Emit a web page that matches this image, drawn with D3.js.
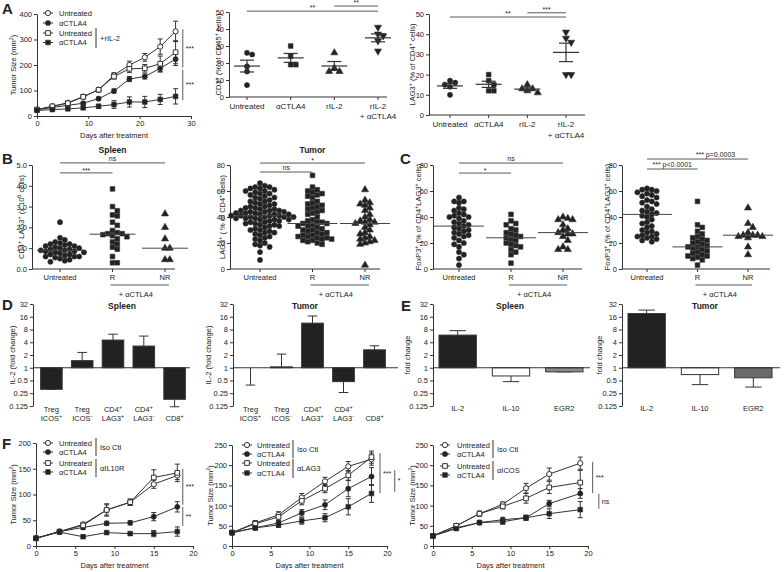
<!DOCTYPE html>
<html><head><meta charset="utf-8">
<script src="https://cdn.jsdelivr.net/npm/d3@7"></script>
<style>
body{margin:0;background:#fff}
svg{display:block}
text{font-family:"Liberation Sans",Arial,Helvetica,sans-serif;fill:#222}
</style></head>
<body><svg id="c" width="784" height="572"></svg>
<script>
// ================= DATA =================
// Panel A1: tumour growth (mm^2)
const daysA = [0,3,6,9,12,15,18,21,24,27];
const A1_untreated      = [25,38,52,76,103,160,200,230,272,332];
const A1_untreated_err  = [5,5,5,6,8,10,15,15,30,40];
const A1_ctla4          = [25,33,42,50,68,98,145,155,187,223];
const A1_ctla4_err      = [5,5,5,5,6,8,10,10,15,25];
const A1_il2            = [25,38,50,75,103,155,185,187,205,250];
const A1_il2_err        = [5,5,5,6,8,10,15,15,30,45];
const A1_ctla4il2       = [22,25,28,32,38,45,55,55,65,77];
const A1_ctla4il2_err   = [4,4,5,6,8,15,20,22,20,30];
const A1_legend = ["Untreated","αCTLA4","Untreated","αCTLA4"];
const yTicksA1 = [0,100,200,300,400];
const xTicksA1 = [0,10,20,30];

// Panels A2 / A3: per-mouse values
const A_groups = ["Untreated","αCTLA4","rIL-2","rIL-2|+ αCTLA4"];
const A2_vals = [[25,26,18,15,7],[30,24,19,19],[26,17,15,15],[41,37,36,33,27]];
const A3_vals = [[17,16,15,14,10],[20,17,15,12,12],[15,13,13,12,11],[41,38,36,20,20]];
const yTicksA23 = [0,10,20,30,40,50];

// Panels B / C
const BC_groups = ["Untreated","R","NR"];
const B1_vals = [
 [2.25,1.5,1.4,1.3,1.25,1.2,1.2,1.15,1.1,1.1,1.05,1.0,1.0,0.95,0.95,0.9,0.9,0.85,0.85,0.8,0.8,0.75,0.7,0.7,0.65,0.6,0.6,0.6,0.55,0.5,0.45,0.4,0.35],
 [3.85,3.0,2.8,2.6,2.55,2.25,2.1,1.85,1.75,1.7,1.7,1.65,1.6,1.55,1.45,1.3,1.2,1.05,0.95,0.6,0.3,0.3],
 [2.65,2.0,1.45,1.0,1.0,0.45,0.45]];
const B2_vals = [
 [66,64,63,63,62,62,61,60,60,59,58,58,57,56,55,55,54,53,52,52,51,50,50,49,48,48,47,47,46,46,45,45,45,44,44,44,43,43,43,42,42,42,41,41,41,41,40,40,40,40,39,39,39,38,38,38,37,37,36,36,35,35,34,34,33,33,32,31,30,30,29,28,28,27,26,25,24,23,22,20,19,18,17,13,7],
 [72,63,61,60,59,58,57,56,55,52,51,50,49,48,47,46,45,44,43,42,40,38,37,36,36,35,35,34,33,33,32,31,30,30,29,28,28,27,26,26,25,25,24,24,23,23,22,22,21,20,19],
 [61,53,51,50,49,47,45,42,40,38,37,36,36,35,34,32,30,28,27,25,24,23,22,21,20,19,3]];
const C1_vals = [
 [55,52,52,51,47,46,45,43,42,41,40,40,39,37,36,35,34,33,32,31,30,29,28,27,26,25,24,22,20,19,17,13,11,8,3],
 [42,37,35,34,31,30,28,27,26,25,24,23,22,20,19,18,17,15,13,11,4.5],
 [40,39,38,38,34,31,30,28,27,27,25,22,17,15,15]];
const C2_vals = [
 [62,61,61,60,59,58,57,56,55,53,52,51,50,48,46,45,44,43,42,41,40,38,36,35,33,32,30,29,28,27,26,25,25,24,23,22,21],
 [52,34,32,29,27,25,24,23,22,21,20,19,18,17,17,16,15,14,13,12,11,10,10,9,8,7,3],
 [47,35,32,28,26,26,26,25,25,24,17,11]];
const yTicksB1 = [0,1,2,3,4,5];
const yTicksBC = [0,20,40,60,80];

// Panels D / E: fold change (log2 axis); *_err = end of error bar
const D_cats = ["Treg|ICOS^{+}","Treg|ICOS^{-}","CD4^{+}|LAG3^{+}","CD4^{+}|LAG3^{-}","|CD8^{+}"];
const D1_vals = [0.31,1.47,4.5,3.25,0.18];
const D1_err  = [0.31,2.3,6.2,5.6,0.12];
const D2_vals = [1.0,1.05,11.3,0.47,2.65];
const D2_err  = [0.39,2.1,16.7,0.26,3.3];
const E_cats = ["IL-2","IL-10","EGR2"];
const E1_vals = [5.9,0.64,0.8];
const E1_err  = [7.5,0.47,0.8];
const E2_vals = [19,0.69,0.58];
const E2_err  = [23,0.4,0.35];
const log2Ticks = [0.125,0.25,0.5,1,2,4,8,16,32];

// Panels F: tumour growth
const daysF12 = [0,3,6,9,12,15,18];
const daysF3  = [0,3,6,9,12,15,19];
const F1_unt_iso   = [15,28,42,70,85,120,137], F1_unt_iso_err   = [3,3,4,10,6,8,8];
const F1_ctla_iso  = [15,28,36,44,45,57,76],   F1_ctla_iso_err  = [3,3,4,4,4,8,10];
const F1_unt_ab    = [15,28,40,70,85,133,142], F1_unt_ab_err    = [3,3,4,12,6,15,17];
const F1_ctla_ab   = [15,27,18,26,24,24,28],   F1_ctla_ab_err   = [3,3,3,3,3,6,9];
const F2_unt_iso   = [33,57,77,120,160,197,215], F2_unt_iso_err  = [4,6,8,10,10,12,15];
const F2_ctla_iso  = [33,45,57,82,102,142,172],  F2_ctla_iso_err = [4,5,6,8,12,20,22];
const F2_unt_ab    = [33,55,72,112,142,175,220], F2_unt_ab_err   = [4,6,8,10,10,12,15];
const F2_ctla_ab   = [33,45,52,62,70,97,130],    F2_ctla_ab_err  = [4,5,6,8,10,20,22];
const F3_unt_iso   = [25,50,80,103,143,178,205], F3_unt_iso_err  = [3,4,6,6,12,15,15];
const F3_ctla_iso  = [25,45,58,65,70,105,130],   F3_ctla_iso_err = [3,4,5,6,6,8,12];
const F3_unt_ab    = [25,50,80,98,118,145,157],  F3_unt_ab_err   = [3,4,6,6,12,15,30];
const F3_ctla_ab   = [25,43,58,60,70,80,90],     F3_ctla_ab_err  = [3,4,5,6,6,12,20];
const F_legend = ["Untreated","αCTLA4","Untreated","αCTLA4"];
const F_groups = [["Iso Ctl","αIL10R"],["Iso Ctl","αLAG3"],["Iso Ctl","αICOS"]];
const xTicksF = [0,5,10,15,20];
const yTicksF1 = [0,50,100,150,200];
const yTicksF23 = [0,50,100,150,200,250];

// ================= DRAWING =================
const svg = d3.select("#c");
const INK = "#222", AX = "#333", SIG = "#5a5a5a";
const FS = 7.5;

function rich(t, str, fs){
  let shift = 0;
  str.split(/(\^\{[^}]*\})/).forEach(p=>{
    if(!p) return;
    const s = t.append("tspan");
    if(p.startsWith("^{")){ s.attr("font-size", fs*0.72).attr("dy", -fs*0.4).text(p.slice(2,-1)); shift = fs*0.4; }
    else { if(shift){ s.attr("dy", shift); shift = 0; } s.text(p); }
  });
}
function txt(g, x, y, str, o={}){
  const fs = o.fs || FS;
  const t = g.append("text").attr("x", x).attr("y", y).attr("font-size", fs)
    .attr("text-anchor", o.anchor || "middle");
  if(o.bold) t.attr("font-weight","bold");
  rich(t, str, fs);
  if(o.rot) t.attr("transform", `rotate(-90,${x},${y})`);
  return t;
}
function styleAxis(g){
  g.select(".domain").attr("stroke", AX).attr("stroke-width", 1);
  g.selectAll(".tick line").attr("stroke", AX);
  g.selectAll(".tick text").attr("font-size", FS).style("fill", INK);
}
function symPath(type){
  if(type==="circle") return d3.symbol(d3.symbolCircle, 21)();
  if(type==="square") return d3.symbol(d3.symbolSquare, 22)();
  return d3.symbol(d3.symbolTriangle, 22)();
}
function drawSym(g, data, type, fill, xf, yf){
  g.selectAll(null).data(data).join("path")
    .attr("transform", d=>`translate(${xf(d)},${yf(d)})${type==="itri"?" rotate(180)":""}`)
    .attr("d", symPath(type)).attr("fill", fill).attr("stroke", AX).attr("stroke-width", fill==="#fff"?1:0.6);
}
function bracket(g, x, v1, v2, y, label){
  g.append("line").attr("x1",x).attr("x2",x).attr("y1",y(v1)).attr("y2",y(v2)).attr("stroke",SIG).attr("stroke-width",1);
  txt(g, x+3, (y(v1)+y(v2))/2 + 2.5, label, {anchor:"start", fs:7});
}

// ---------- line charts ----------
function lineChart(o){
  const g = svg.append("g");
  const x = d3.scaleLinear().domain(o.xd).range(o.xr);
  const y = d3.scaleLinear().domain(o.yd).range(o.yr);
  g.append("g").attr("transform",`translate(0,${o.yr[0]})`)
    .call(d3.axisBottom(x).tickValues(o.xt).tickSize(3).tickSizeOuter(0).tickPadding(2)).call(styleAxis);
  g.append("g").attr("transform",`translate(${o.xr[0]},0)`)
    .call(d3.axisLeft(y).tickValues(o.yt).tickSize(3).tickSizeOuter(0).tickPadding(2)).call(styleAxis);
  o.series.forEach(s=>{
    const pts = o.days.map((d,i)=>({d, v:s.v[i], e:s.e[i]}));
    g.append("path").datum(pts).attr("d", d3.line().x(p=>x(p.d)).y(p=>y(p.v)))
      .attr("fill","none").attr("stroke",AX).attr("stroke-width",1);
    pts.forEach(p=>{
      const xx = x(p.d);
      g.append("line").attr("x1",xx).attr("x2",xx).attr("y1",y(p.v-p.e)).attr("y2",y(p.v+p.e)).attr("stroke",AX);
      [p.v-p.e, p.v+p.e].forEach(v=>g.append("line").attr("x1",xx-2.5).attr("x2",xx+2.5).attr("y1",y(v)).attr("y2",y(v)).attr("stroke",AX));
    });
  });
  o.series.forEach(s=>{
    const pts = o.days.map((d,i)=>({d, v:s.v[i]}));
    drawSym(g, pts, s.sym, s.fill, p=>x(p.d), p=>y(p.v));
  });
  txt(g, (o.xr[0]+o.xr[1])/2, o.yr[0]+22, "Days after treatment");
  txt(g, o.ylx, (o.yr[0]+o.yr[1])/2, "Tumor  Size (mm^{2})", {rot:true});
  const L = o.legend;
  o.series.forEach((s,i)=>{
    const ly = L.rows[i];
    g.append("line").attr("x1",L.mx-5).attr("x2",L.mx+5).attr("y1",ly).attr("y2",ly).attr("stroke",AX);
    drawSym(g, [0], s.sym, s.fill, ()=>L.mx, ()=>ly);
    txt(g, L.tx, ly+2.6, o.labels[i], {anchor:"start"});
  });
  L.bars.forEach(b=>{
    g.append("line").attr("x1",L.bx).attr("x2",L.bx).attr("y1",b.y1).attr("y2",b.y2).attr("stroke",AX);
    txt(g, L.bx+4, (b.y1+b.y2)/2+2.6, b.label, {anchor:"start"});
  });
  o.sig.forEach(s=>bracket(g, x(s.x), s.v1, s.v2, y, s.label));
}

// ---------- scatter panels ----------
function swarm(vals, y, cx, r){
  const pts = vals.map(v=>({v, py:y(v)})).sort((a,b)=>d3.ascending(a.py,b.py));
  const placed = [];
  pts.forEach(p=>{
    for(let k=0;k<80;k++){
      const off = k===0 ? 0 : (k%2?1:-1)*Math.ceil(k/2)*2*r;
      const px = cx+off;
      if(placed.every(q=>(q.x-px)**2+(q.y-p.py)**2 >= 4*r*r*0.92)){ p.px=px; placed.push({x:px,y:p.py}); break; }
    }
  });
  return pts;
}
function scatterPanel(o){
  const g = svg.append("g");
  const y = d3.scaleLinear().domain(o.yd).range(o.yr);
  const x = d3.scalePoint().domain(o.groups).range(o.cr);
  g.append("g").attr("transform",`translate(${o.x0},0)`)
    .call(d3.axisLeft(y).tickValues(o.yt).tickSize(3).tickSizeOuter(0).tickPadding(2)).call(styleAxis);
  g.append("line").attr("x1",o.x0).attr("x2",o.xEnd).attr("y1",o.yr[0]).attr("y2",o.yr[0]).attr("stroke",AX);
  o.groups.forEach((gr,i)=>{
    const cx = x(gr);
    g.append("line").attr("x1",cx).attr("x2",cx).attr("y1",o.yr[0]).attr("y2",o.yr[0]+3).attr("stroke",AX);
    gr.split("|").forEach((ln,j)=>txt(g, cx, o.yr[0]+o.lab+j*(o.lsp||10), ln, {fs:o.lfs||FS}));
    const pts = swarm(o.vals[i], y, cx, o.r);
    drawSym(g, pts, o.syms[i], INK, p=>p.px, p=>p.py);
    const vals = o.vals[i];
    if(o.stat==="median"){
      const m = d3.median(vals);
      g.append("line").attr("x1",cx-o.mw).attr("x2",cx+o.mw).attr("y1",y(m)).attr("y2",y(m)).attr("stroke","#444").attr("stroke-width",1);
    } else {
      const m = d3.mean(vals), se = d3.deviation(vals)/Math.sqrt(vals.length);
      g.append("line").attr("x1",cx-o.mw).attr("x2",cx+o.mw).attr("y1",y(m)).attr("y2",y(m)).attr("stroke","#333").attr("stroke-width",1.2);
      g.append("line").attr("x1",cx).attr("x2",cx).attr("y1",y(m-se)).attr("y2",y(m+se)).attr("stroke","#333").attr("stroke-width",1.2);
      [m-se,m+se].forEach(v=>g.append("line").attr("x1",cx-o.cw).attr("x2",cx+o.cw).attr("y1",y(v)).attr("y2",y(v)).attr("stroke","#333").attr("stroke-width",1.2));
    }
  });
  if(o.sub){
    const a = x(o.groups[1])-2, b = x(o.groups[2])+4;
    g.append("line").attr("x1",a).attr("x2",b).attr("y1",o.yr[0]+16).attr("y2",o.yr[0]+16).attr("stroke",SIG);
    txt(g, (a+b)/2-4, o.yr[0]+28, "+ αCTLA4");
  }
  o.sig.forEach(s=>{
    const a = x(o.groups[s.a]), b = x(o.groups[s.b]), yy = y(s.v);
    g.append("line").attr("x1",a).attr("x2",b).attr("y1",yy).attr("y2",yy).attr("stroke",SIG).attr("stroke-width",1);
    txt(g, (a+b)/2+(s.dx||0), yy+(s.dy||0), s.label, {fs:7});
  });
  txt(g, o.ylx, (o.yr[0]+o.yr[1])/2, o.ylabel, {rot:true});
  if(o.title) txt(g, (o.cr[0]+o.cr[1])/2, o.ty, o.title, {bold:true, fs:8.5});
}

// ---------- log bar panels ----------
function barPanel(o){
  const g = svg.append("g");
  const y = d3.scaleLog().base(2).domain([0.125,32]).range([406,304]);
  const x = d3.scaleBand().domain(o.cats).range(o.br).paddingInner(o.pad).paddingOuter(o.pad/2);
  g.append("g").attr("transform",`translate(${o.x0},0)`)
    .call(d3.axisLeft(y).tickValues(log2Ticks).tickFormat(d3.format("")).tickSize(3).tickSizeOuter(0).tickPadding(2)).call(styleAxis);
  o.cats.forEach((c,i)=>{
    const v = o.vals[i], e = o.err[i], x0 = x(c), w = x.bandwidth(), cx = x0+w/2;
    g.append("line").attr("x1",cx).attr("x2",cx).attr("y1",y(v)).attr("y2",y(e)).attr("stroke",AX);
    g.append("line").attr("x1",cx-w*0.22).attr("x2",cx+w*0.22).attr("y1",y(e)).attr("y2",y(e)).attr("stroke",AX);
    g.append("rect").attr("x",x0).attr("width",w)
      .attr("y", y(Math.max(v,1))).attr("height", Math.abs(y(v)-y(1)))
      .attr("fill", o.fills[i]).attr("stroke", AX).attr("stroke-width", 1);
    c.split("|").forEach((ln,j)=>{ if(ln) txt(g, cx, o.ly+j*9, ln); });
  });
  g.append("line").attr("x1",o.x0).attr("x2",o.x1).attr("y1",y(1)).attr("y2",y(1)).attr("stroke",AX).attr("stroke-width",1);
  txt(g, o.ylx, 355, o.ylabel, {rot:true});
  txt(g, o.tx, 309, o.title, {bold:true, fs:8.5});
}

// ================= PANELS =================
[["A",2,14],["B",2,164],["C",400,164],["D",2,310],["E",401,311],["F",2,449]].forEach(l=>
  txt(svg, l[1], l[2], l[0], {anchor:"start", bold:true, fs:15}));

// A1
lineChart({
  xd:[0,30], xr:[37,191], yd:[0,400], yr:[116,14], xt:xTicksA1, yt:yTicksA1, days:daysA, ylx:16,
  series:[
    {v:A1_untreated, e:A1_untreated_err, sym:"circle", fill:"#fff"},
    {v:A1_ctla4, e:A1_ctla4_err, sym:"circle", fill:INK},
    {v:A1_il2, e:A1_il2_err, sym:"square", fill:"#fff"},
    {v:A1_ctla4il2, e:A1_ctla4il2_err, sym:"square", fill:INK}],
  labels:A1_legend,
  legend:{mx:48, tx:59, rows:[13,23,33,42.5], bx:96, bars:[{y1:28,y2:48,label:"+rIL-2"}]},
  sig:[{x:28.4, v1:340, v2:190, label:"***"},{x:28.4, v1:182, v2:62, label:"***"}]
});

// A2
scatterPanel({
  x0:229, xEnd:387, yd:[0,50], yr:[97,12], yt:yTicksA23, groups:A_groups, cr:[247,378],
  vals:A2_vals, syms:["circle","square","tri","itri"], r:2.6, stat:"mean", mw:13, cw:7, lab:12, lsp:10, lfs:8,
  ylabel:"CD3^{+} (% of CD45^{+} cells)", ylx:221,
  sig:[{a:0,b:3,v:50.5,label:"**",dy:-1},{a:2,b:3,v:53.5,label:"**",dy:-1}]
});
// A3
scatterPanel({
  x0:429, xEnd:585, yd:[0,50], yr:[115,14], yt:yTicksA23, groups:A_groups, cr:[450,566],
  vals:A3_vals, syms:["circle","square","tri","itri"], r:2.6, stat:"mean", mw:13, cw:7, lab:12, lsp:10.5, lfs:8,
  ylabel:"LAG3^{+} (% of CD4^{+} cells)", ylx:415,
  sig:[{a:0,b:3,v:48.5,label:"**",dy:-1},{a:2,b:3,v:50.6,label:"***",dy:-1}]
});

// B1
scatterPanel({
  x0:32, xEnd:175, yd:[0,5], yr:[269,165], yt:yTicksB1, groups:BC_groups, cr:[60,165],
  vals:B1_vals, syms:["circle","square","tri"], r:2.4, stat:"median", mw:23, lab:11, sub:true,
  ylabel:"CD4^{+} LAG3^{+} (x 10^{6} cells)", ylx:24, title:"Spleen", ty:153,
  sig:[{a:0,b:2,v:5.1,label:"ns",dy:-2},{a:0,b:1,v:4.62,label:"***",dy:0}]
});
// B2
scatterPanel({
  x0:230, xEnd:380, yd:[0,80], yr:[269,165], yt:yTicksBC, groups:BC_groups, cr:[260,365],
  vals:B2_vals, syms:["circle","square","tri"], r:2.4, stat:"median", mw:25, lab:11, sub:true,
  ylabel:"LAG3^{+} ( % of CD4^{+} cells)", ylx:225, title:"Tumor", ty:153,
  sig:[{a:0,b:2,v:81.5,label:"*",dy:0},{a:0,b:1,v:74.6,label:"ns",dy:-2}]
});
// C1
scatterPanel({
  x0:433, xEnd:582, yd:[0,80], yr:[269,165], yt:yTicksBC, groups:BC_groups, cr:[459,563],
  vals:C1_vals, syms:["circle","square","tri"], r:2.4, stat:"median", mw:25, lab:11, sub:true,
  ylabel:"FoxP3^{+} (% of CD4^{+}LAG3^{+} cells)", ylx:421,
  sig:[{a:0,b:2,v:81.5,label:"ns",dy:-2},{a:0,b:1,v:73.8,label:"*",dy:0}]
});
// C2
scatterPanel({
  x0:622, xEnd:770, yd:[0,80], yr:[269,165], yt:yTicksBC, groups:BC_groups, cr:[647,748],
  vals:C2_vals, syms:["circle","square","tri"], r:2.4, stat:"median", mw:25, lab:11, sub:true,
  ylabel:"FoxP3^{+} (% of CD4^{+}LAG3^{+} cells)", ylx:610,
  sig:[{a:0,b:2,v:84.6,label:"*** p=0.0003",dx:18,dy:-2},{a:0,b:1,v:76.9,label:"*** p<0.0001",dy:-2}]
});

// D1, D2
barPanel({x0:33, x1:190, br:[36,190], pad:0.3, cats:D_cats, vals:D1_vals, err:D1_err,
  fills:D_cats.map(()=>INK), ly:412, ylx:15, ylabel:"IL-2 (fold change)", tx:122, title:"Spleen"});
barPanel({x0:233, x1:398, br:[235,390], pad:0.3, cats:D_cats, vals:D2_vals, err:D2_err,
  fills:D_cats.map(()=>INK), ly:412, ylx:211, ylabel:"IL-2 (fold change)", tx:305, title:"Tumor"});
// E1, E2
barPanel({x0:433, x1:590, br:[431,591], pad:0.3, cats:E_cats, vals:E1_vals, err:E1_err,
  fills:[INK,"#fff","#8c8c8c"], ly:411, ylx:410, ylabel:"fold change", tx:510, title:"Spleen"});
barPanel({x0:622, x1:780, br:[620,780], pad:0.3, cats:E_cats, vals:E2_vals, err:E2_err,
  fills:[INK,"#fff","#6a6a6a"], ly:411, ylx:602, ylabel:"fold change", tx:705, title:"Tumor"});

// F panels
const fSeries = (a,ae,b,be,c,ce,d,de)=>[
  {v:a,e:ae,sym:"circle",fill:"#fff"},{v:b,e:be,sym:"circle",fill:INK},
  {v:c,e:ce,sym:"square",fill:"#fff"},{v:d,e:de,sym:"square",fill:INK}];
lineChart({
  xd:[0,20], xr:[36,193], yd:[0,200], yr:[546,443], xt:xTicksF, yt:yTicksF1, days:daysF12, ylx:16,
  series:fSeries(F1_unt_iso,F1_unt_iso_err,F1_ctla_iso,F1_ctla_iso_err,F1_unt_ab,F1_unt_ab_err,F1_ctla_ab,F1_ctla_ab_err),
  labels:F_legend,
  legend:{mx:48, tx:59, rows:[443,452,463,472], bx:96, bars:[{y1:438,y2:456,label:F_groups[0][0]},{y1:459,y2:477,label:F_groups[0][1]}]},
  sig:[{x:18.7, v1:150, v2:80, label:"***"},{x:18.7, v1:76, v2:39, label:"**"}]
});
lineChart({
  xd:[0,20], xr:[232,387], yd:[0,250], yr:[546,445], xt:xTicksF, yt:yTicksF23, days:daysF12, ylx:213,
  series:fSeries(F2_unt_iso,F2_unt_iso_err,F2_ctla_iso,F2_ctla_iso_err,F2_unt_ab,F2_unt_ab_err,F2_ctla_ab,F2_ctla_ab_err),
  labels:F_legend,
  legend:{mx:247, tx:257, rows:[445,454,463,473], bx:293, bars:[{y1:440,y2:458,label:F_groups[1][0]},{y1:459,y2:478,label:F_groups[1][1]}]},
  sig:[{x:19.1, v1:230, v2:131, label:"***"},{x:21.0, v1:188, v2:134, label:"*"}]
});
lineChart({
  xd:[0,20], xr:[433,588], yd:[0,250], yr:[546,445], xt:xTicksF, yt:yTicksF23, days:daysF3, ylx:415,
  series:fSeries(F3_unt_iso,F3_unt_iso_err,F3_ctla_iso,F3_ctla_iso_err,F3_unt_ab,F3_unt_ab_err,F3_ctla_ab,F3_ctla_ab_err),
  labels:F_legend,
  legend:{mx:445, tx:457, rows:[445,454,466,475], bx:493, bars:[{y1:440,y2:458,label:F_groups[2][0]},{y1:461,y2:480,label:F_groups[2][1]}]},
  sig:[{x:20.6, v1:208, v2:131, label:"***"},{x:21.4, v1:129, v2:92, label:"ns"}]
});
</script></body></html>
